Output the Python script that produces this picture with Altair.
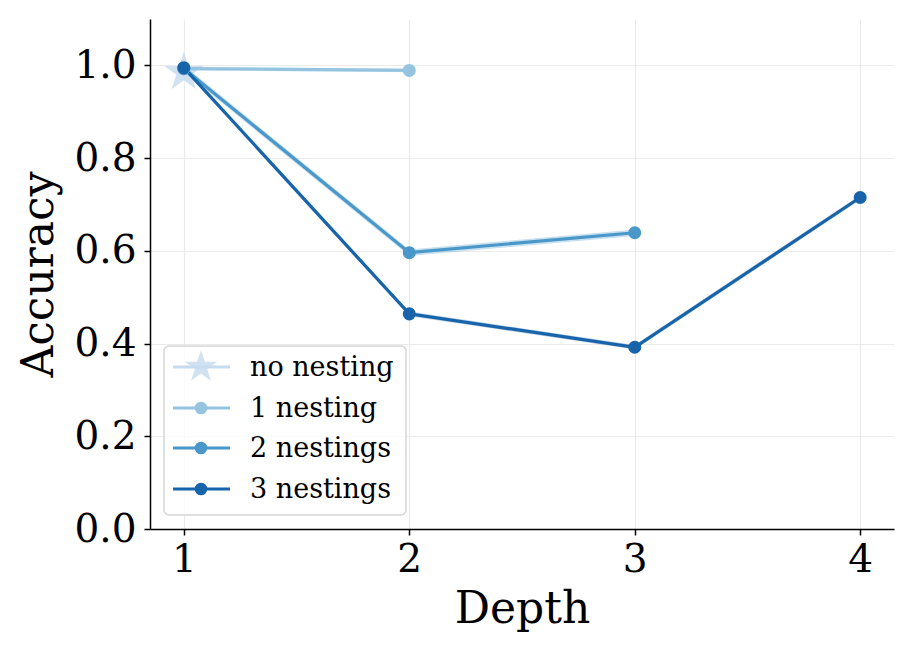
import altair as alt
import pandas as pd

series = ["no nesting", "1 nesting", "2 nestings", "3 nestings"]
colors = ["#c8dcf0", "#94c4df", "#4a98c9", "#1764ab"]

depth_1 = [1, 2]
acc_1 = [0.993, 0.989]
depth_2 = [1, 2, 3]
acc_2 = [0.993, 0.596, 0.639]
depth_3 = [1, 2, 3, 4]
acc_3 = [0.995, 0.464, 0.392, 0.715]
star_depth = [1]
star_acc = [0.985]
band_half = [0.004, 0.007, 0.005]

rows = []
for name, ds, accs, hw in [("1 nesting", depth_1, acc_1, band_half[0]),
                           ("2 nestings", depth_2, acc_2, band_half[1]),
                           ("3 nestings", depth_3, acc_3, band_half[2])]:
    for d, a in zip(ds, accs):
        rows.append({"series": name, "depth": d, "acc": a, "lo": a - hw, "hi": a + hw})
df = pd.DataFrame(rows)
star_df = pd.DataFrame({"series": ["no nesting"], "depth": star_depth, "acc": star_acc})

# five-pointed star in the [-1, 1] box (custom symbol path)
STAR = ("M0,-1L0.2245,-0.309L0.9511,-0.309L0.3633,0.118L0.5878,0.809L0,0.382"
        "L-0.5878,0.809L-0.3633,0.118L-0.9511,-0.309L-0.2245,-0.309Z")

FONT = "DejaVu Serif"
xs = alt.Scale(domain=[0.85, 4.15], nice=False, zero=False)
ys = alt.Scale(domain=[0, 1.1], nice=False)
cs = alt.Scale(domain=series, range=colors)

X = alt.X("depth:Q", scale=xs, title="Depth",
          axis=alt.Axis(values=[1, 2, 3, 4], format="d", grid=True))
Y = alt.Y("acc:Q", scale=ys, title="Accuracy",
          axis=alt.Axis(values=[0, 0.2, 0.4, 0.6, 0.8, 1.0], format=".1f", grid=True))
C = alt.Color("series:N", scale=cs, legend=None)

star = alt.Chart(star_df).mark_point(shape=STAR, filled=True, size=1700, opacity=0.85,
                                     strokeWidth=0).encode(x=X, y=Y, color=C)
band = alt.Chart(df).mark_area(opacity=0.3).encode(
    x=X, y="lo:Q", y2="hi:Q", color=C, detail="series:N")
line = alt.Chart(df).mark_line(strokeWidth=3.2).encode(x=X, y=Y, color=C, detail="series:N")
pts = alt.Chart(df).mark_circle(size=170, opacity=1).encode(x=X, y=Y, color=C)

# manual legend (positions in plot-area pixels)
one = alt.Data(values=[{"a": 1}])
leg_layers = [alt.Chart(one).mark_rect(fill="white", fillOpacity=0.8, stroke="#d6d6d6",
                                       strokeWidth=1.5, cornerRadius=5).encode(
    x=alt.value(14), x2=alt.value(256), y=alt.value(327), y2=alt.value(496))]
row_y = [348, 389, 429, 470]
for i, (name, col) in enumerate(zip(series, colors)):
    yy = row_y[i]
    leg_layers.append(alt.Chart(one).mark_rule(color=col, strokeWidth=3).encode(
        x=alt.value(23), x2=alt.value(80), y=alt.value(yy)))
    if i == 0:
        leg_layers.append(alt.Chart(one).mark_point(shape=STAR, filled=True, size=1150,
                                                    color=col, opacity=0.85,
                                                    strokeWidth=0).encode(
            x=alt.value(51), y=alt.value(yy)))
    else:
        leg_layers.append(alt.Chart(one).mark_circle(size=160, color=col, opacity=1).encode(
            x=alt.value(51), y=alt.value(yy)))
    leg_layers.append(alt.Chart(one).mark_text(text=name, font=FONT, fontSize=27, align="left",
                                               baseline="middle", color="black").encode(
        x=alt.value(100), y=alt.value(yy + 1)))

chart = alt.layer(star, band, line, pts, *leg_layers).properties(
    width=744, height=510,
    autosize=alt.AutoSizeParams(type="none"),
    padding={"left": 142, "top": 11, "right": 10, "bottom": 116},
).configure_view(stroke="transparent").configure_axis(
    labelFont=FONT, titleFont=FONT, labelFontSize=39, titleFontSize=44,
    labelColor="black", titleColor="black", titleFontWeight="normal",
    domainColor="black", domainWidth=1.5, tickColor="black", tickSize=6, tickWidth=1.5,
    gridColor="#ebebeb", gridWidth=1.2,
).configure_axisX(labelPadding=5, titlePadding=8).configure_axisY(labelPadding=8, titlePadding=12)

chart.save("out.html", embed_options={"renderer": "svg", "actions": False})
